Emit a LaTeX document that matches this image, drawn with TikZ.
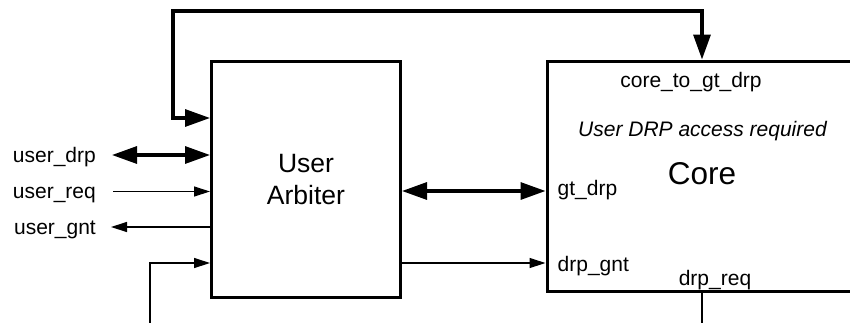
\documentclass[tikz,border=0pt]{standalone}
\usepackage{fontspec}
\setmainfont{Liberation Sans}
\usetikzlibrary{arrows.meta}
\begin{document}
\begin{tikzpicture}[x=1pt,y=-1pt,
  box/.style={draw,line width=3pt,inner sep=0pt},
  lbl/.style={font=\fontsize{21}{25}\selectfont,inner sep=0pt,text height=14.6pt,text depth=0pt},
  bigboth/.style={line width=3.2pt,{Triangle[length=25pt,width=17pt]}-{Triangle[length=25pt,width=17pt]}},
  thinarr/.style={line width=1.3pt,-{Triangle[length=16pt,width=10pt]}},
  wire/.style={line width=1.3pt}]
\useasboundingbox (0,0) rectangle (850,322);
\clip (0,0) rectangle (850,322);
% boxes
\node[box,minimum width=189pt,minimum height=236.5pt,align=center,
      font=\fontsize{26.5}{32}\selectfont] (arb) at (306,179.25) {User\\Arbiter};
\node[box,minimum width=333pt,minimum height=230pt] (core) at (713.5,176) {};
% core texts
\node[lbl] (c2g) at (691,80) {core\_to\_gt\_drp};
\node[lbl,font=\fontsize{21}{25}\selectfont\itshape] (udrp) at (702.5,129.4) {User DRP access required};
\node[font=\fontsize{31.5}{36}\selectfont,inner sep=0pt] (coretxt) at (702,174) {Core};
\node[lbl,anchor=west] (gtdrp) at (557.5,188) {gt\_drp};
\node[lbl,anchor=west] (drpgnt) at (557.5,264.4) {drp\_gnt};
\node[lbl] (drpreq) at (715,277.7) {drp\_req};
% outside labels
\node[lbl,anchor=east] (ud) at (96,155) {user\_drp};
\node[lbl,anchor=east] (ur) at (96,191.5) {user\_req};
\node[lbl,anchor=east] (ug) at (96,227) {user\_gnt};
% connectors
\draw[bigboth] (arb.west |- 0,118) -- (173,118) -- (173,11) -- (702,11) -- (core.north -| 702,0);
\draw[bigboth] ([xshift=16pt]ud.east) -- (arb.west |- ud.east);
\draw[thinarr] ([xshift=17pt]ur.east) -- (arb.west |- ur.east);
\draw[thinarr] (arb.west |- ug.east) -- ([xshift=15pt]ug.east);
\coordinate (bl) at (150,323);
\draw[thinarr] (bl) -- (150,263) -- (arb.west |- 0,263);
\draw[bigboth] (arb.east |- 0,191) -- (core.west |- 0,191);
\draw[thinarr] (arb.east |- 0,263) -- (core.west |- 0,263);
\coordinate (dr) at (702,323);
\draw[wire] (core.south -| 702,0) -- (dr);
\end{tikzpicture}
\end{document}
